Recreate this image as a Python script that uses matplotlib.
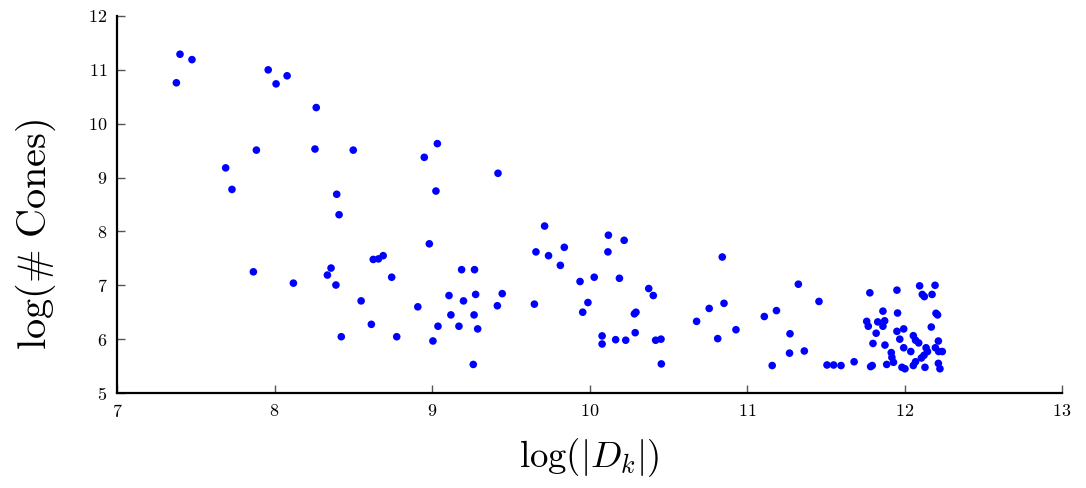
import matplotlib
matplotlib.use('Agg')
import matplotlib.pyplot as plt

# log|D_k| and log(# cones)
log_dk = [
    7.40, 7.476, 7.377, 7.96, 8.01, 8.08, 8.265, 7.885, 7.69, 7.73,
    8.257, 8.50, 8.395, 8.41, 9.025, 7.866, 8.12, 8.359, 8.336, 8.39,
    8.627, 8.66, 8.69, 8.744, 8.983, 8.55, 8.91, 8.615, 8.424, 8.776,
    9.006, 9.188, 9.27, 9.108, 9.20, 9.277, 9.12, 9.267, 9.038, 9.171,
    9.29, 9.262, 9.415, 9.446, 9.034, 8.951, 9.419, 9.715, 9.66, 9.74,
    9.84, 9.815, 9.94, 10.03, 10.12, 10.117, 10.22, 10.19, 9.65, 9.99,
    9.957, 10.08, 10.08, 10.166, 10.23, 10.29, 10.285, 10.295, 10.376, 10.405,
    10.42, 10.454, 10.456, 10.68, 10.76, 10.843, 10.854, 10.814, 10.93, 11.11,
    11.187, 11.326, 11.457, 11.273, 11.27, 11.364, 11.16, 11.508, 11.55, 11.597,
    11.68, 11.78, 11.76, 11.77, 11.83, 11.863, 11.874, 11.863, 11.82, 11.80,
    11.876, 11.785, 11.795, 11.887, 11.952, 12.096, 12.194, 12.113, 12.126, 12.175,
    11.956, 12.20, 12.21, 11.952, 11.995, 12.17, 11.97, 12.056, 12.07, 12.09,
    11.995, 12.04, 12.137, 12.146, 12.124, 12.107, 11.916, 11.92, 11.93, 12.215,
    12.196, 12.217, 12.24, 11.984, 12.003, 12.056, 12.07, 12.13, 12.215, 12.225,
]
log_cones = [
    11.29, 11.19, 10.76, 11.00, 10.74, 10.89, 10.30, 9.51, 9.18, 8.78,
    9.53, 9.51, 8.69, 8.31, 8.75, 7.25, 7.04, 7.32, 7.19, 7.005,
    7.48, 7.49, 7.55, 7.15, 7.77, 6.71, 6.60, 6.275, 6.045, 6.045,
    5.966, 7.29, 7.29, 6.81, 6.71, 6.83, 6.45, 6.45, 6.24, 6.24,
    6.19, 5.53, 6.62, 6.845, 9.63, 9.376, 9.08, 8.10, 7.62, 7.55,
    7.705, 7.37, 7.07, 7.15, 7.93, 7.62, 7.835, 7.13, 6.65, 6.68,
    6.50, 6.06, 5.91, 5.99, 5.98, 6.12, 6.47, 6.50, 6.94, 6.81,
    5.98, 6.00, 5.54, 6.33, 6.57, 7.525, 6.665, 6.01, 6.175, 6.42,
    6.53, 7.02, 6.70, 6.10, 5.74, 5.78, 5.51, 5.52, 5.52, 5.51,
    5.58, 6.86, 6.33, 6.24, 6.32, 6.52, 6.34, 6.24, 6.11, 5.92,
    5.89, 5.49, 5.51, 5.53, 6.91, 6.99, 7.00, 6.83, 6.79, 6.83,
    6.485, 6.48, 6.45, 6.145, 6.19, 6.225, 6.00, 6.064, 5.98, 5.93,
    5.84, 5.77, 5.84, 5.77, 5.70, 5.65, 5.75, 5.66, 5.57, 5.965,
    5.84, 5.77, 5.77, 5.477, 5.45, 5.51, 5.58, 5.477, 5.55, 5.45,
]

x_ticks = [7, 8, 9, 10, 11, 12, 13]
y_ticks = [5, 6, 7, 8, 9, 10, 11, 12]

plt.rcParams['font.family'] = 'serif'
plt.rcParams['font.serif'] = ['cmr10']
plt.rcParams['mathtext.fontset'] = 'cm'
plt.rcParams['axes.formatter.use_mathtext'] = True

fig = plt.figure(figsize=(10.86, 4.88), dpi=100)
ax = fig.add_axes([117 / 1086, 1 - 393 / 488, (1062 - 117) / 1086, (393 - 16) / 488])

ax.scatter(log_dk, log_cones, s=30, color='#0000ff', edgecolors='none', zorder=3)

ax.set_xlim(7, 13)
ax.set_ylim(5, 12)
ax.set_xticks(x_ticks)
ax.set_yticks(y_ticks)

ax.spines['top'].set_visible(False)
ax.spines['right'].set_visible(False)
ax.spines['left'].set_linewidth(1.6)
ax.spines['bottom'].set_linewidth(1.6)
ax.tick_params(direction='in', length=6, width=1, color='#555555',
               labelsize=13, pad=7, top=False, right=False)

ax.set_xlabel(r'$\log(|D_k|)$', fontsize=26.5, labelpad=12)
ax.set_ylabel(r'$\log(\#\ \mathrm{Cones})$', fontsize=29)
# label sits a bit below the axis centre in the reference
ax.yaxis.set_label_coords(-0.062, 0.42)

fig.savefig('out.png', dpi=100)
